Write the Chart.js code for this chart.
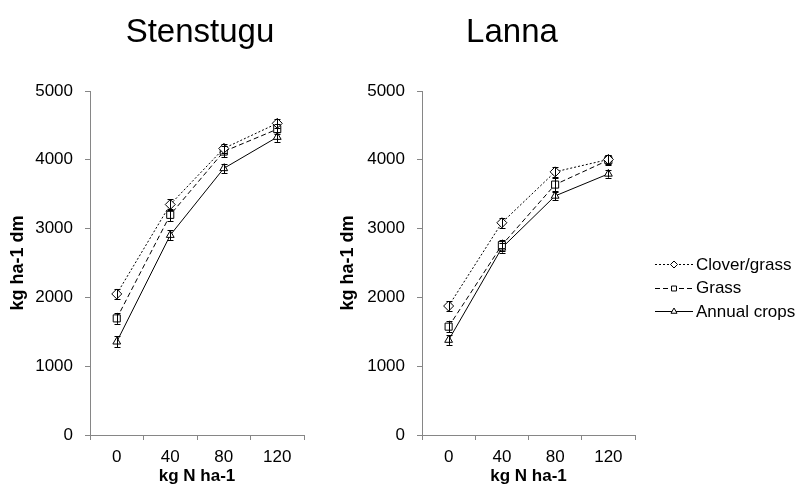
<!DOCTYPE html>
<html>
<head>
<meta charset="utf-8">
<script src="https://cdn.jsdelivr.net/npm/chart.js@4"></script>
<style>
  body { margin: 0; background: #fff; }
  #wrap { position: relative; width: 805px; height: 492px; }
  canvas { position: absolute; top: 0; }
</style>
</head>
<body>
<div id="wrap">
  <canvas id="chartSten" width="330" height="492" style="left:0"></canvas>
  <canvas id="chartLanna" width="475" height="492" style="left:330px"></canvas>
</div>
<script>
const nLevels = ['0', '40', '80', '120'];
const seriesNames = ['Clover/grass', 'Grass', 'Annual crops'];
const yTicks = [0, 1000, 2000, 3000, 4000, 5000];

// Stenstugu
const stenClover = [2050, 3350, 4165, 4530];
const stenGrass = [1695, 3200, 4120, 4445];
const stenAnnual = [1355, 2905, 3875, 4330];
const stenCloverErr = [70, 75, 70, 65];
const stenGrassErr = [80, 90, 80, 75];
const stenAnnualErr = [80, 70, 70, 70];

// Lanna
const lannaClover = [1875, 3085, 3825, 4005];
const lannaGrass = [1575, 2760, 3640, 3995];
const lannaAnnual = [1380, 2720, 3475, 3795];
const lannaCloverErr = [70, 70, 70, 70];
const lannaGrassErr = [85, 80, 100, 70];
const lannaAnnualErr = [70, 70, 60, 55];

const FONT = '"Liberation Sans", Arial, sans-serif';
const AXIS_GREY = '#868686';

const seriesStyle = [
  { dash: [2, 2], point: 'rectRot', radius: 5 },
  { dash: [5, 3], point: 'rect', radius: 5 },
  { dash: [], point: 'triangle', radius: 4.5 }
];

// error bars drawn through the library's y scale
const errorBars = {
  id: 'errorBars',
  afterDatasetsDraw(chart) {
    const ctx = chart.ctx;
    const y = chart.scales.y;
    ctx.save();
    ctx.strokeStyle = '#000';
    ctx.lineWidth = 1;
    chart.data.datasets.forEach((ds, i) => {
      const meta = chart.getDatasetMeta(i);
      meta.data.forEach((pt, j) => {
        const v = ds.data[j], e = ds.errors[j];
        const x = Math.round(pt.x) + 0.5;
        const y1 = y.getPixelForValue(v + e), y2 = y.getPixelForValue(v - e);
        ctx.beginPath();
        ctx.moveTo(x, y1); ctx.lineTo(x, y2);
        ctx.moveTo(x - 3, Math.round(y1) + 0.5); ctx.lineTo(x + 3, Math.round(y1) + 0.5);
        ctx.moveTo(x - 3, Math.round(y2) + 0.5); ctx.lineTo(x + 3, Math.round(y2) + 0.5);
        ctx.stroke();
      });
    });
    ctx.restore();
  }
};

const panelTitle = {
  id: 'panelTitle',
  afterDraw(chart, args, opts) {
    const ctx = chart.ctx;
    ctx.save();
    ctx.fillStyle = '#000';
    ctx.font = '33px ' + FONT;
    ctx.textAlign = 'center';
    ctx.textBaseline = 'alphabetic';
    ctx.fillText(opts.text, opts.x, 42);
    ctx.restore();
  }
};

const sideLegend = {
  id: 'sideLegend',
  afterDraw(chart, args, opts) {
    if (!opts.show) return;
    const ctx = chart.ctx;
    ctx.save();
    chart.data.datasets.forEach((ds, i) => {
      const yy = opts.y + i * 23.5;
      ctx.strokeStyle = '#000';
      ctx.lineWidth = 1;
      ctx.setLineDash(ds.borderDash);
      ctx.beginPath();
      ctx.moveTo(opts.x, Math.round(yy) + 0.5);
      ctx.lineTo(opts.x + 38, Math.round(yy) + 0.5);
      ctx.stroke();
      ctx.setLineDash([]);
      ctx.fillStyle = '#fff';
      Chart.helpers.drawPoint(ctx, { pointStyle: ds.pointStyle, rotation: 0, radius: 3.5, borderWidth: 1 },
        opts.x + 19, Math.round(yy) + 0.5);
      ctx.fillStyle = '#000';
      ctx.font = '17px ' + FONT;
      ctx.textAlign = 'left';
      ctx.textBaseline = 'middle';
      ctx.fillText(ds.label, opts.x + 41, yy + 1);
    });
    ctx.restore();
  }
};

function makePanel(canvasId, title, titleX, values, errors, padRight, legend) {
  const datasets = values.map((vals, i) => ({
    label: seriesNames[i],
    data: vals,
    errors: errors[i],
    borderColor: '#000',
    borderWidth: 1,
    borderDash: seriesStyle[i].dash,
    pointStyle: seriesStyle[i].point,
    pointRadius: seriesStyle[i].radius,
    pointBackgroundColor: '#fff',
    pointBorderColor: '#000',
    pointBorderWidth: 1,
    tension: 0,
    fill: false
  }));
  return new Chart(document.getElementById(canvasId), {
    type: 'line',
    data: { labels: nLevels, datasets },
    plugins: [errorBars, panelTitle, sideLegend],
    options: {
      responsive: false,
      animation: false,
      layout: { padding: { top: 91, right: padRight, left: 0, bottom: 0 } },
      plugins: {
        legend: { display: false },
        tooltip: { enabled: false },
        panelTitle: { text: title, x: titleX },
        sideLegend: legend
      },
      scales: {
        x: {
          offset: true,
          grid: { offset: true, drawOnChartArea: false, color: AXIS_GREY, tickLength: 5 },
          border: { color: AXIS_GREY },
          ticks: { color: '#000', font: { family: FONT, size: 17 }, padding: 7 },
          title: { display: true, text: 'kg N ha-1', color: '#000',
                   font: { family: FONT, size: 17, weight: 'bold' }, padding: { top: 0, bottom: 5 } },
          afterFit(scale) { scale.height = 57; }
        },
        y: {
          min: 0, max: 5000,
          afterBuildTicks(scale) { scale.ticks = yTicks.map(v => ({ value: v })); },
          grid: { drawOnChartArea: false, color: AXIS_GREY, tickLength: 5 },
          border: { color: AXIS_GREY },
          ticks: { color: '#000', font: { family: FONT, size: 17 }, padding: 12,
                   callback: v => String(v) },
          title: { display: true, text: 'kg ha-1 dm', color: '#000',
                   font: { family: FONT, size: 18, weight: 'bold' }, padding: { top: 7, bottom: 0 } },
          afterFit(scale) { scale.width = canvasId === 'chartSten' ? 90 : 92; }
        }
      }
    }
  });
}

makePanel('chartSten', 'Stenstugu', 200,
  [stenClover, stenGrass, stenAnnual],
  [stenCloverErr, stenGrassErr, stenAnnualErr], 26, { show: false });

makePanel('chartLanna', 'Lanna', 182,
  [lannaClover, lannaGrass, lannaAnnual],
  [lannaCloverErr, lannaGrassErr, lannaAnnualErr], 170, { show: true, x: 325, y: 264 });
</script>
</body>
</html>
